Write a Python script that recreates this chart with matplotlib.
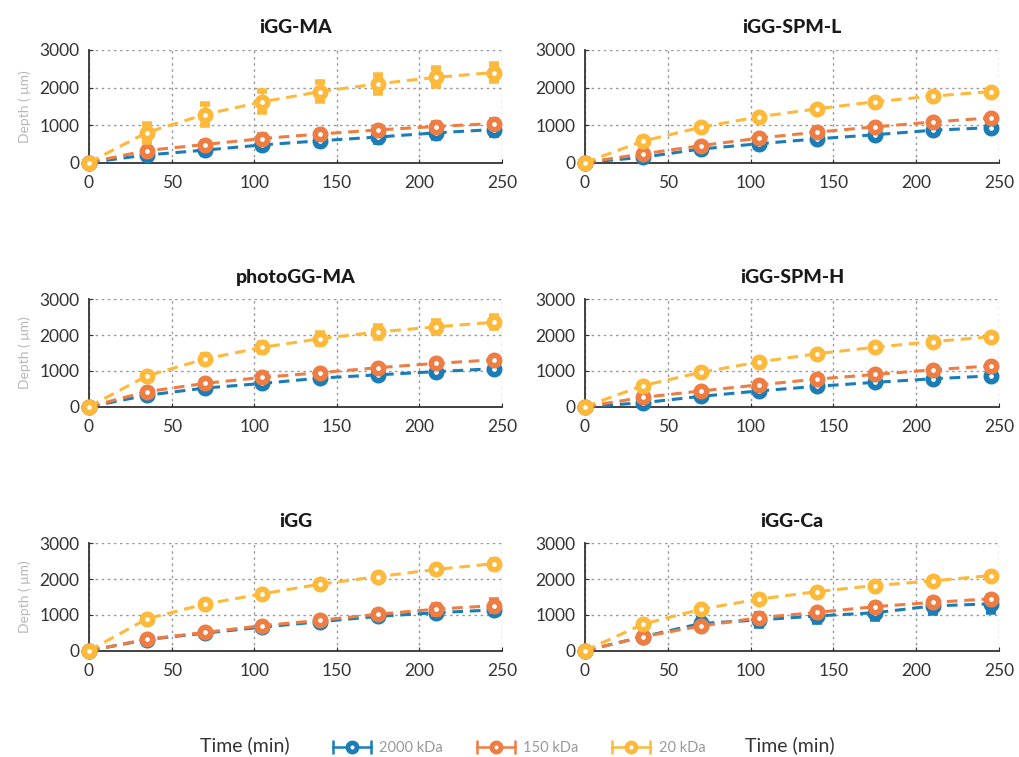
import matplotlib
matplotlib.use("Agg")
import matplotlib.pyplot as plt
from matplotlib.lines import Line2D
from matplotlib.legend_handler import HandlerLine2D, HandlerTuple

plt.rcParams['font.family'] = ['Lato', 'DejaVu Sans']

time = [0, 35, 70, 105, 140, 175, 210, 245]
series_labels = ["2000 kDa", "150 kDa", "20 kDa"]
panel_titles = ["iGG-MA", "iGG-SPM-L", "photoGG-MA", "iGG-SPM-H", "iGG", "iGG-Ca"]

# values per panel: [2000 kDa, 150 kDa, 20 kDa]
igg_ma = [[0, 200, 330, 470, 580, 680, 790, 880],
          [0, 320, 480, 640, 760, 870, 960, 1040],
          [0, 800, 1280, 1620, 1890, 2100, 2270, 2400]]
igg_ma_err = [[0, 90, 90, 100, 110, 120, 130, 140],
              [0, 80, 80, 90, 90, 90, 90, 90],
              [0, 240, 290, 280, 260, 240, 240, 230]]

igg_spm_l = [[0, 140, 360, 500, 630, 740, 860, 930],
             [0, 230, 450, 650, 810, 950, 1080, 1190],
             [0, 570, 940, 1220, 1430, 1620, 1770, 1890]]
igg_spm_l_err = [[0, 40, 50, 50, 60, 60, 60, 60],
                 [0, 40, 40, 50, 50, 50, 50, 50],
                 [0, 50, 50, 50, 50, 50, 50, 50]]

photogg_ma = [[0, 320, 520, 650, 800, 890, 980, 1060],
              [0, 420, 650, 820, 950, 1090, 1210, 1310],
              [0, 860, 1330, 1660, 1900, 2090, 2230, 2360]]
photogg_ma_err = [[0, 50, 60, 60, 60, 60, 60, 60],
                  [0, 60, 60, 60, 60, 60, 60, 60],
                  [0, 90, 110, 130, 150, 160, 170, 170]]

igg_spm_h = [[0, 110, 290, 440, 570, 680, 780, 860],
             [0, 260, 440, 610, 770, 900, 1030, 1140],
             [0, 590, 960, 1250, 1480, 1660, 1820, 1950]]
igg_spm_h_err = [[0, 40, 40, 50, 50, 50, 50, 50],
                 [0, 40, 40, 40, 50, 50, 50, 50],
                 [0, 60, 50, 50, 50, 50, 50, 50]]

igg = [[0, 310, 490, 660, 810, 960, 1060, 1140],
       [0, 320, 510, 700, 850, 1020, 1160, 1260],
       [0, 890, 1300, 1590, 1860, 2070, 2270, 2430]]
igg_err = [[0, 50, 60, 60, 70, 80, 90, 100],
           [0, 50, 60, 70, 80, 100, 130, 160],
           [0, 60, 70, 80, 80, 80, 90, 90]]

igg_ca = [[0, 390, 760, 860, 970, 1060, 1250, 1310],
          [0, 390, 690, 920, 1070, 1230, 1350, 1450],
          [0, 740, 1160, 1440, 1650, 1820, 1950, 2100]]
igg_ca_err = [[0, 60, 150, 170, 180, 170, 200, 220],
              [0, 50, 60, 70, 80, 80, 90, 90],
              [0, 60, 60, 60, 60, 60, 60, 60]]

panels = [igg_ma, igg_spm_l, photogg_ma, igg_spm_h, igg, igg_ca]
panel_errs = [igg_ma_err, igg_spm_l_err, photogg_ma_err, igg_spm_h_err, igg_err, igg_ca_err]

colors = ['#1b7db8', '#ee7d44', '#fdb93c']

W, H = 1019, 757
fig = plt.figure(figsize=(W / 100, H / 100), dpi=100)

col_x = [(89, 413), (585, 414)]
row_y = [(50, 162.5), (299.3, 406.7), (543.3, 650.7)]

for i, (title, data, errs) in enumerate(zip(panel_titles, panels, panel_errs)):
    r, c = divmod(i, 2)
    x0, w = col_x[c]
    top, bot = row_y[r]
    ax = fig.add_axes([x0 / W, 1 - bot / H, w / W, (bot - top) / H])
    for k in range(3):
        ax.errorbar(time, data[k], yerr=errs[k], color=colors[k], ls='--', lw=2.2,
                    dashes=(3.5, 2.2),
                    marker='o', ms=7.5, mew=4.0, mfc='white', mec=colors[k],
                    elinewidth=2.0, capsize=3.5, capthick=1.5, clip_on=False, zorder=3 + k)
    ax.set_xlim(0, 250)
    ax.set_ylim(0, 3000)
    ax.set_xticks([0, 50, 100, 150, 200, 250])
    ax.set_yticks([0, 1000, 2000, 3000])
    ax.grid(True, ls=(0, (1.8, 2.6)), color='#999999', lw=1.0)
    ax.set_axisbelow(True)
    for s in ['top', 'right']:
        ax.spines[s].set_visible(False)
    for s in ['left', 'bottom']:
        ax.spines[s].set_color('#333333')
        ax.spines[s].set_linewidth(1.3)
    ax.tick_params(direction='in', length=3, colors='#333333', labelsize=12.5)
    ax.tick_params(axis='x', pad=9)
    ax.tick_params(axis='y', pad=7)
    ax.set_title(title, fontsize=14, fontweight='black', color='#1a1a1a', pad=12)
    if c == 0:
        ax.set_ylabel('Depth ( μm)', color='#b8b8b8', fontsize=10, labelpad=6)

fig.text(245 / W, 1 - 745 / H, 'Time (min)', ha='center', va='center', fontsize=14, color='#333333')
fig.text(790 / W, 1 - 745 / H, 'Time (min)', ha='center', va='center', fontsize=14, color='#333333')


class CircleHandle(Line2D):
    pass


handles = []
for k in range(3):
    bar = Line2D([], [], color=colors[k], lw=1.8, marker='|', ms=10, mew=1.8)
    circ = CircleHandle([], [], color=colors[k], ls='none', marker='o', ms=6.5, mew=3.5,
                        mfc='white', mec=colors[k])
    handles.append((bar, circ))

fig.legend(handles, series_labels, loc='center', bbox_to_anchor=(517 / W, 1 - 748 / H),
           ncol=3, frameon=False, fontsize=10.5, labelcolor='#999999', numpoints=2,
           handlelength=3.2, columnspacing=2.0, handletextpad=0.3,
           handler_map={CircleHandle: HandlerLine2D(numpoints=1), tuple: HandlerTuple(ndivide=1)})

fig.savefig('out.png', dpi=100)
